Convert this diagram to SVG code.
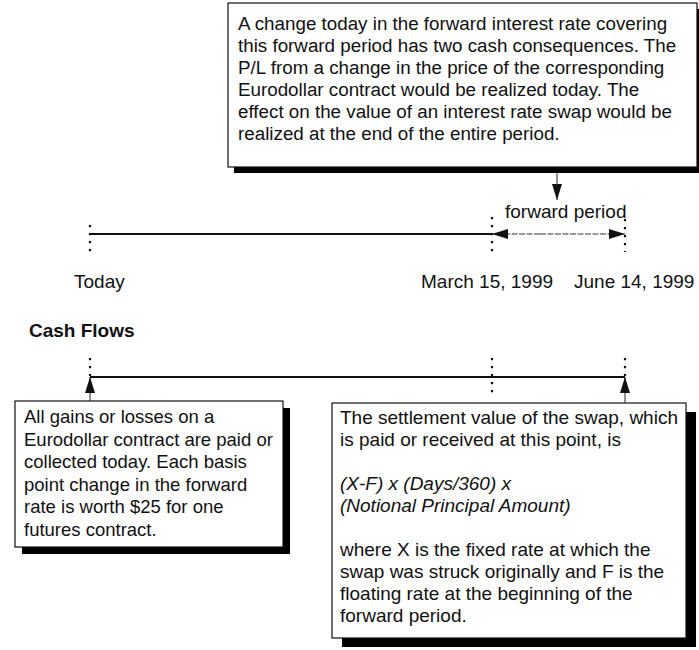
<svg xmlns="http://www.w3.org/2000/svg" width="699" height="650" viewBox="0 0 699 650">
<defs>
<style>
text{font-family:"Liberation Sans",Arial,Helvetica,sans-serif;font-size:19px;fill:#111}
.t{font-size:18.8px}
.l{font-size:18.5px}
.it{font-style:italic}
.b{font-weight:bold}
.box{fill:#fff;stroke:#111;stroke-width:1.2}
.shadow{fill:#000}
.dot{stroke:#111;stroke-width:2.2;stroke-dasharray:2.2,5.8;fill:none}
.line{stroke:#111;stroke-width:1.8;fill:none}
.thin{stroke:#222;stroke-width:1;fill:none}
.fp{stroke:#333;stroke-width:1;stroke-dasharray:6,1.5;fill:none}
</style>
<marker id="ah" viewBox="0 0 16 10" refX="16" refY="5" markerWidth="16" markerHeight="10" markerUnits="userSpaceOnUse" orient="auto">
<path d="M0,0 L16,5 L0,10 z" fill="#111"/>
</marker>
</defs>
<rect width="699" height="650" fill="#fff"/>

<g id="top-note">
<rect class="shadow" x="234" y="9" width="470" height="164"/>
<rect class="box" x="228" y="3" width="469" height="164"/>
<text class="t" x="238" y="30">A change today in the forward interest rate covering</text>
<text class="t" x="238" y="52">this forward period has two cash consequences. The</text>
<text class="t" x="238" y="74">P/L from a change in the price of the corresponding</text>
<text class="t" x="238" y="96">Eurodollar contract would be realized today. The</text>
<text class="t" x="238" y="118">effect on the value of an interest rate swap would be</text>
<text class="t" x="238" y="140">realized at the end of the entire period.</text>
</g>

<g id="ticks">
<line class="dot" x1="90" y1="225" x2="90" y2="252"/>
<line class="dot" x1="492" y1="217" x2="492" y2="252"/>
<line class="dot" x1="625" y1="219" x2="625" y2="252"/>
<line class="dot" x1="90" y1="358" x2="90" y2="376"/>
<line class="dot" x1="492" y1="358" x2="492" y2="394"/>
<line class="dot" x1="625" y1="358" x2="625" y2="376"/>
</g>

<g id="labels">
<text x="505" y="218">forward period</text>
<text x="74" y="288">Today</text>
<text x="421" y="288">March 15, 1999</text>
<text x="574" y="288">June 14, 1999</text>
<text class="b" x="29" y="337">Cash Flows</text>
</g>

<g id="connectors">
<line class="thin" x1="557" y1="173" x2="557" y2="200" marker-end="url(#ah)"/>
<line class="line" x1="90" y1="234" x2="492" y2="234"/>
<line class="fp" x1="540" y1="234" x2="492" y2="234" marker-end="url(#ah)"/>
<line class="fp" x1="540" y1="234" x2="625" y2="234" marker-end="url(#ah)"/>
<line class="line" x1="90" y1="377" x2="625" y2="377"/>
<line class="thin" x1="90" y1="401" x2="90" y2="377" marker-end="url(#ah)"/>
<line class="thin" x1="625" y1="403" x2="625" y2="377" marker-end="url(#ah)"/>
</g>

<g id="today-note">
<rect class="shadow" x="22" y="408" width="268" height="146"/>
<rect class="box" x="15" y="401" width="268" height="146"/>
<text class="l" x="24" y="423">All gains or losses on a</text>
<text class="l" x="24" y="445.5">Eurodollar contract are paid or</text>
<text class="l" x="24" y="468">collected today. Each basis</text>
<text class="l" x="24" y="490.5">point change in the forward</text>
<text class="l" x="24" y="513">rate is worth $25 for one</text>
<text class="l" x="24" y="535.5">futures contract.</text>
</g>

<g id="swap-note">
<rect class="shadow" x="342" y="412" width="354" height="235"/>
<rect class="box" x="332" y="403" width="354" height="235"/>
<text x="340" y="424">The settlement value of the swap, which</text>
<text x="340" y="446">is paid or received at this point, is</text>
<text class="it" x="340" y="490">(X-F) x (Days/360) x</text>
<text class="it" x="340" y="512">(Notional Principal Amount)</text>
<text x="340" y="556">where X is the fixed rate at which the</text>
<text x="340" y="578">swap was struck originally and F is the</text>
<text x="340" y="600">floating rate at the beginning of the</text>
<text x="340" y="622">forward period.</text>
</g>
</svg>
